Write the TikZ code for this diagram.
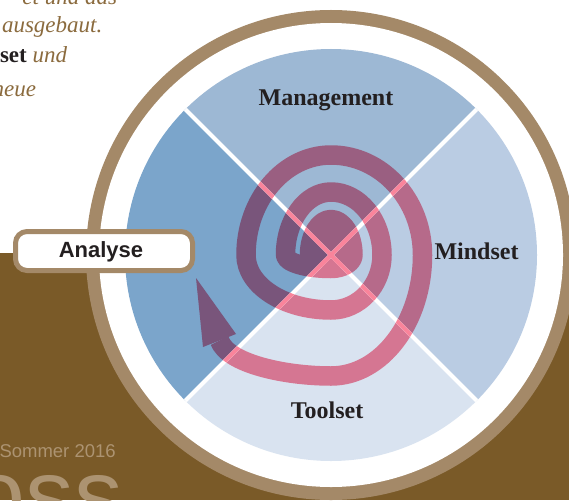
\documentclass[tikz,border=0pt]{standalone}
\usepackage{fontspec}
\setmainfont{Liberation Serif}
\newfontfamily\sansf{Liberation Sans}
\definecolor{qtop}{RGB}{157,184,212}
\definecolor{qleft}{RGB}{123,165,203}
\definecolor{qright}{RGB}{186,204,227}
\definecolor{qbot}{RGB}{217,227,240}
\definecolor{spink}{RGB}{250,132,155}
\definecolor{stop}{RGB}{154,95,129}
\definecolor{sleft}{RGB}{121,85,123}
\definecolor{sright}{RGB}{182,106,138}
\definecolor{sbot}{RGB}{213,118,146}
\definecolor{ringbrown}{RGB}{164,137,104}
\definecolor{bgbrown}{RGB}{122,90,40}
\definecolor{txtbrown}{RGB}{139,107,62}
\definecolor{tanc}{RGB}{172,147,113}
\definecolor{labeldark}{RGB}{35,31,32}
\newcommand\spiralpath{(309.5,263) -- (309.5,255)
 arc[start angle=180,end angle=270,x radius=21.5,y radius=35.5]
 arc[start angle=270,end angle=360,x radius=22,y radius=35.5]
 arc[start angle=0,end angle=90,x radius=22,y radius=13.5]
 arc[start angle=90,end angle=180,x radius=45.5,y radius=13.5]
 arc[start angle=180,end angle=270,x radius=45.5,y radius=63]
 arc[start angle=270,end angle=360,x radius=51,y radius=63]
 arc[start angle=0,end angle=90,x radius=51,y radius=55]
 arc[start angle=90,end angle=180,x radius=85,y radius=55]
 arc[start angle=180,end angle=270,x radius=85,y radius=100]
 arc[start angle=270,end angle=360,x radius=91.5,y radius=100]
 arc[start angle=0,end angle=90,x radius=91.5,y radius=121]
 .. controls +(-45,0) and (228,364) .. (219.5,340.5)}
\newcommand\spiralall[1]{%
 \draw[spir,draw=#1] \spiralpath;
 \fill[#1] (196,278) -- (203,347) -- (236,334) -- cycle;
 \fill[#1] (331,244) ellipse [x radius=22, y radius=25];}
\tikzset{
 spir/.style={line width=19.5pt, line cap=butt, line join=round},
 lab/.style={font=\fontsize{24}{28}\selectfont\bfseries, text=labeldark, anchor=base},
 itx/.style={font=\fontsize{23}{27}\selectfont\itshape, text=txtbrown},
 wline/.style={white, line width=4pt}
}
\begin{document}
\begin{tikzpicture}[x=1pt,y=-1pt, every node/.style={inner sep=0pt, outer sep=0pt}]
\useasboundingbox (0,0) rectangle (569,500);
\clip (0,0) rectangle (569,500);
\fill[white] (0,0) rectangle (569,500);
\fill[bgbrown] (0,253) rectangle (569,500);
\fill[ringbrown] (331,255) circle (245);
\fill[white] (331,255) circle (232);
% quadrants, separators and spiral inside the disc
\begin{scope}
 \clip (331,255) circle (206);
 \fill[qtop] (331,255) -- (-169,-245) -- (831,-245) -- cycle;
 \fill[qright] (331,255) -- (831,-245) -- (831,755) -- cycle;
 \fill[qbot] (331,255) -- (831,755) -- (-169,755) -- cycle;
 \fill[qleft] (331,255) -- (-169,755) -- (-169,-245) -- cycle;
 \begin{scope}
  \clip (331,255) -- (-169,-245) -- (831,-245) -- cycle;
  \spiralall{stop}
 \end{scope}
 \begin{scope}
  \clip (331,255) -- (831,-245) -- (831,755) -- cycle;
  \spiralall{sright}
 \end{scope}
 \begin{scope}
  \clip (331,255) -- (831,755) -- (-169,755) -- cycle;
  \spiralall{sbot}
 \end{scope}
 \begin{scope}
  \clip (331,255) -- (-169,755) -- (-169,-245) -- cycle;
  \spiralall{sleft}
 \end{scope}
 \draw[wline] (121,45) -- (541,465);
 \draw[wline] (121,465) -- (541,45);
 \begin{scope}
  \clip (122.41,43.59) -- (542.41,463.59) -- (539.59,466.41) -- (119.59,46.41) -- cycle;
  \spiralall{spink}
 \end{scope}
 \begin{scope}
  \clip (122.41,466.41) -- (119.59,463.59) -- (539.59,43.59) -- (542.41,46.41) -- cycle;
  \spiralall{spink}
 \end{scope}
\end{scope}
% labels
\node[lab] (mgmt) at (326,105) {Management};
\node[lab] (mind) at (476.5,259) {Mindset};
\node[lab] (tool) at (327,418) {Toolset};
% Analyse box
\node[draw=ringbrown, line width=5pt, fill=white, rounded corners=11.5pt,
      minimum width=177pt, minimum height=39pt] (abox) at (104,251) {};
\node[font=\sansf\bfseries\fontsize{22}{26}\selectfont, text=labeldark, anchor=base] (alab) at (101,257) {Analyse};
% top-left text
\node[itx, anchor=base east] (t1) at (117,5) {et und das};
\node[itx, anchor=base west] (t2) at (2,33) {ausgebaut.};
\node[itx, anchor=base west] (t3) at (0,63) {{\upshape\bfseries\color{labeldark}set} und};
\node[itx, anchor=base east] (t4) at (36,96) {neue};
% bottom-left text
\node[font=\sansf\fontsize{18.5}{22}\selectfont, text=tanc, anchor=base west] (som) at (-0.5,457) {Sommer 2016};
\node[font=\sansf\fontsize{97}{100}\selectfont, text=tanc, anchor=base west,
      text height=50pt, text depth=0pt] (big) at (-28,527) {oss};
\end{tikzpicture}
\end{document}
